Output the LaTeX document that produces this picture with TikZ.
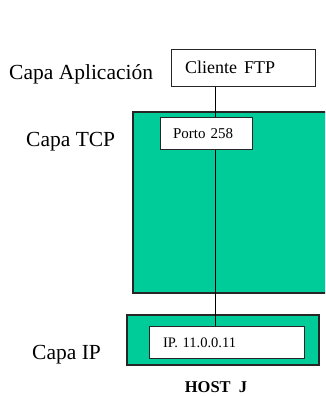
\documentclass[tikz,border=0pt]{standalone}
\usepackage{fontspec}
\setmainfont{Liberation Serif}
\definecolor{boxgreen}{RGB}{0,204,153}
\begin{document}
\begin{tikzpicture}[x=1pt,y=-1pt,
  greenbox/.style={draw=black!85,line width=1.2pt,fill=boxgreen,inner sep=0pt},
  whitebox/.style={draw=black!85,line width=1pt,fill=white,inner sep=0pt,align=left},
  layerlabel/.style={anchor=base west,inner sep=0pt,font=\fontsize{21.5}{24}\selectfont},
  conn/.style={draw=black,line width=1pt}]
\useasboundingbox (0,0) rectangle (325,396);
\clip (0,0) rectangle (325,396);
% green boxes
\node[greenbox,minimum width=200,minimum height=181] (tcp) at (233,202.5) {};
\node[greenbox,minimum width=192,minimum height=50] (ipout) at (223,340) {};
% layer labels
\node[layerlabel] (lapp) at (9,79) {Capa Aplicación};
\node[layerlabel] (ltcp) at (26,146) {Capa TCP};
\node[layerlabel] (lip) at (32,359) {Capa IP};
% boxes
\coordinate (lx) at (215.7,0);
\node[whitebox,minimum width=144,minimum height=36,text width=116,inner xsep=14pt,
  text height=12pt,text depth=0pt,font=\fontsize{18}{20}\selectfont] (cli) at (243,68) {Cliente\hspace{0.4em}FTP};
\node[whitebox,minimum width=92,minimum height=32,text width=66,inner xsep=13pt,
  text height=10.5pt,text depth=0pt,font=\fontsize{15}{17}\selectfont] (porto) at (206,133) {Porto 258};
\node[whitebox,minimum width=155,minimum height=32,text width=127,inner xsep=14pt,
  text height=10pt,text depth=0pt,font=\fontsize{14.5}{16}\selectfont] (ipin) at (226.5,342) {IP. 11.0.0.11};
% connectors
\draw[conn] (cli.south -| lx) -- (porto.north -| lx);
\draw[conn] (porto.south -| lx) -- (ipin.north -| lx);
% host label
\node[anchor=base,inner sep=0pt,font=\fontsize{16.5}{18}\selectfont\bfseries] (host) at (216,392.5) {HOST\ \ J};
\end{tikzpicture}
\end{document}
